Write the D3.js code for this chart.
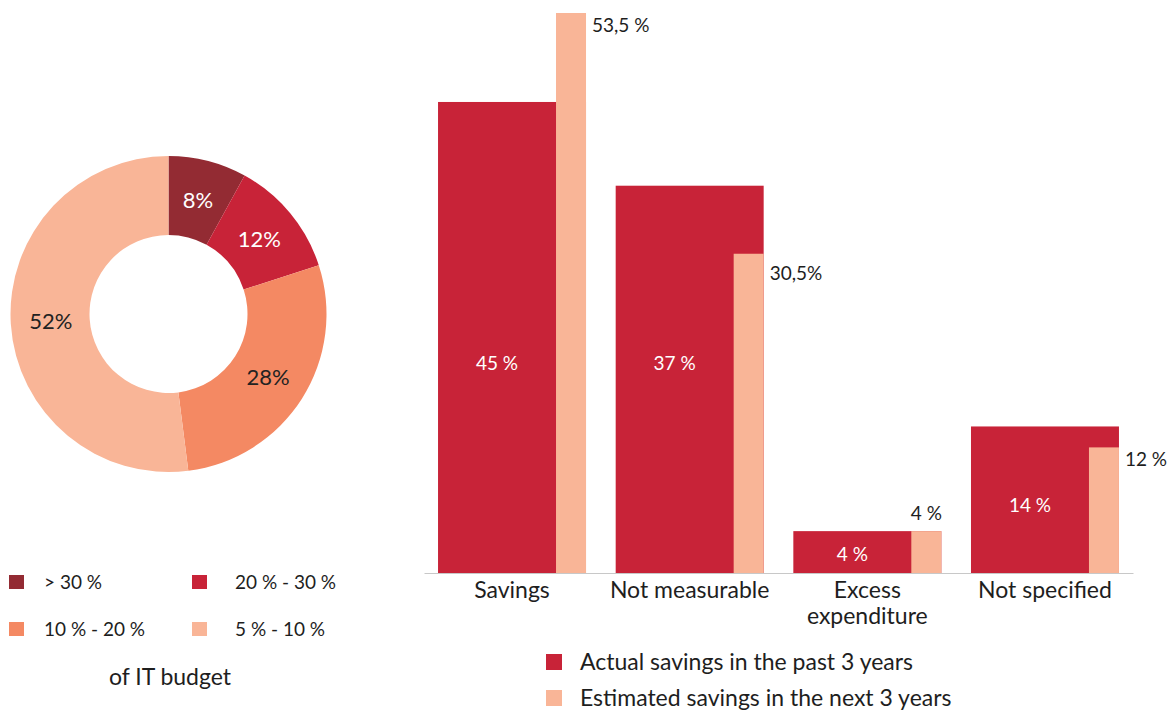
<!doctype html>
<html>
<head>
<meta charset="utf-8">
<title>IT savings</title>
<script src="https://d3js.org/d3.v7.min.js"></script>
<style>
    body { margin: 0; background: #fff; }
    svg text { font-family: Lato, "Open Sans", sans-serif; fill: #1e1e1e; }
</style>
</head>
<body>
<svg width="1169" height="711"></svg>
<script>
// donut data
var budgetLabels = ["> 30 %", "20 % - 30 %", "10 % - 20 %", "5 % - 10 %"];
var budgetShares = [8, 12, 28, 52];
var budgetColors = ["#932b33", "#c82338", "#f48963", "#f9b597"];

// bar data
var categories = ["Savings", "Not measurable", "Excess expenditure", "Not specified"];
var actual = [45, 37, 4, 14];
var estimated = [53.5, 30.5, 4, 12];
var actualText = ["45 %", "37 %", "4 %", "14 %"];
var estimatedText = ["53,5 %", "30,5%", "4 %", "12 %"];
var seriesNames = ["Actual savings in the past 3 years", "Estimated savings in the next 3 years"];
var seriesColors = ["#c82338", "#f9b597"];

var svg = d3.select("svg");

// ---- donut ----
var cx = 168.5, cy = 314, outerR = 158, innerR = 79;
var pie = d3.pie().sort(null).value(function(d) { return d; });
var arc = d3.arc().innerRadius(innerR).outerRadius(outerR);
var labelArc = d3.arc().innerRadius(118).outerRadius(118);

var donut = svg.append("g").attr("transform", "translate(" + cx + "," + cy + ")");
var slices = donut.selectAll(".slice")
    .data(pie(budgetShares))
    .enter().append("g").attr("class", "slice");

slices.append("path")
    .attr("d", arc)
    .attr("fill", function(d, i) { return budgetColors[i]; });

slices.append("text")
    .attr("transform", function(d) { return "translate(" + labelArc.centroid(d) + ")"; })
    .attr("text-anchor", "middle")
    .attr("dy", "0.36em")
    .style("font-size", "22px")
    .style("fill", function(d, i) { return i < 2 ? "#fff" : "#222"; })
    .text(function(d) { return d.data + "%"; });

// donut legend
var pieLegend = svg.append("g");
var pl = pieLegend.selectAll(".pl")
    .data(budgetLabels)
    .enter().append("g")
    .attr("transform", function(d, i) {
        return "translate(" + (i % 2 == 0 ? 9 : 192) + "," + (i < 2 ? 575 : 622) + ")";
    });
pl.append("rect")
    .attr("width", 15).attr("height", 14)
    .attr("fill", function(d, i) { return budgetColors[i]; });
pl.append("text")
    .attr("x", function(d, i) { return i % 2 == 0 ? 35 : 43; })
    .attr("y", 14)
    .style("font-size", "19px")
    .text(function(d) { return d; });

svg.append("text")
    .attr("x", 170).attr("y", 685)
    .attr("text-anchor", "middle")
    .style("font-size", "23px")
    .text("of IT budget");

// ---- bars ----
var xScale = d3.scaleBand()
    .domain(categories)
    .range([424, 1133])
    .paddingInner(0.167)
    .paddingOuter(0.079);

var yScale = d3.scaleLinear()
    .domain([0, 53.5])
    .range([573, 13]);

var estW = 30;
var bw = xScale.bandwidth();

var bars = svg.append("g");
bars.selectAll(".actual")
    .data(categories)
    .enter().append("rect")
    .attr("class", "actual")
    .attr("x", function(d) { return xScale(d); })
    .attr("y", function(d, i) { return yScale(actual[i]); })
    .attr("width", bw)
    .attr("height", function(d, i) { return yScale(0) - yScale(actual[i]); })
    .attr("fill", seriesColors[0]);

bars.selectAll(".est")
    .data(categories)
    .enter().append("rect")
    .attr("class", "est")
    .attr("x", function(d) { return xScale(d) + bw - estW; })
    .attr("y", function(d, i) { return yScale(estimated[i]); })
    .attr("width", estW)
    .attr("height", function(d, i) { return yScale(0) - yScale(estimated[i]); })
    .attr("fill", seriesColors[1]);

// labels inside the actual bars
bars.selectAll(".alabel")
    .data(categories)
    .enter().append("text")
    .attr("x", function(d) { return xScale(d) + (bw - estW) / 2; })
    .attr("y", function(d, i) { return yScale(actual[i] >= 20 ? 20 : actual[i] * 0.46); })
    .attr("dy", "0.36em")
    .attr("text-anchor", "middle")
    .style("font-size", "19px")
    .style("fill", "#fff")
    .text(function(d, i) { return actualText[i]; });

// labels for estimated bars
bars.selectAll(".elabel")
    .data(categories)
    .enter().append("text")
    .attr("x", function(d, i) {
        return estimated[i] < 5 ? xScale(d) + bw - estW / 2 : xScale(d) + bw + 6;
    })
    .attr("y", function(d, i) {
        if (estimated[i] < 5) return yScale(estimated[i]) - 11;
        return yScale(estimated[i]) + (i == 1 ? 26 : 19);
    })
    .attr("text-anchor", function(d, i) { return estimated[i] < 5 ? "middle" : "start"; })
    .style("font-size", "19px")
    .text(function(d, i) { return estimatedText[i]; });

// x axis
var xAxis = svg.append("g")
    .attr("transform", "translate(0,573)")
    .call(d3.axisBottom(xScale).tickSize(0).tickPadding(0).tickFormat(""));
xAxis.select(".domain").attr("stroke", "#c8c8c8");

svg.selectAll(".cat")
    .data(categories)
    .enter().append("text")
    .attr("class", "cat")
    .attr("text-anchor", "middle")
    .attr("x", function(d) { return xScale(d) + bw / 2; })
    .attr("y", 598)
    .style("font-size", "23px")
    .each(function(d) {
        var words = d == "Excess expenditure" ? ["Excess", "expenditure"] : [d];
        var t = d3.select(this);
        words.forEach(function(w, k) {
            t.append("tspan")
                .attr("x", xScale(d) + bw / 2)
                .attr("dy", k == 0 ? 0 : 26)
                .text(w);
        });
    });

// bar legend
var bl = svg.selectAll(".bl")
    .data(seriesNames)
    .enter().append("g")
    .attr("transform", function(d, i) { return "translate(546," + (654 + i * 36) + ")"; });
bl.append("rect")
    .attr("width", 16).attr("height", 16)
    .attr("fill", function(d, i) { return seriesColors[i]; });
bl.append("text")
    .attr("x", 34).attr("y", 16)
    .style("font-size", "23px")
    .text(function(d) { return d; });
</script>
</body>
</html>
